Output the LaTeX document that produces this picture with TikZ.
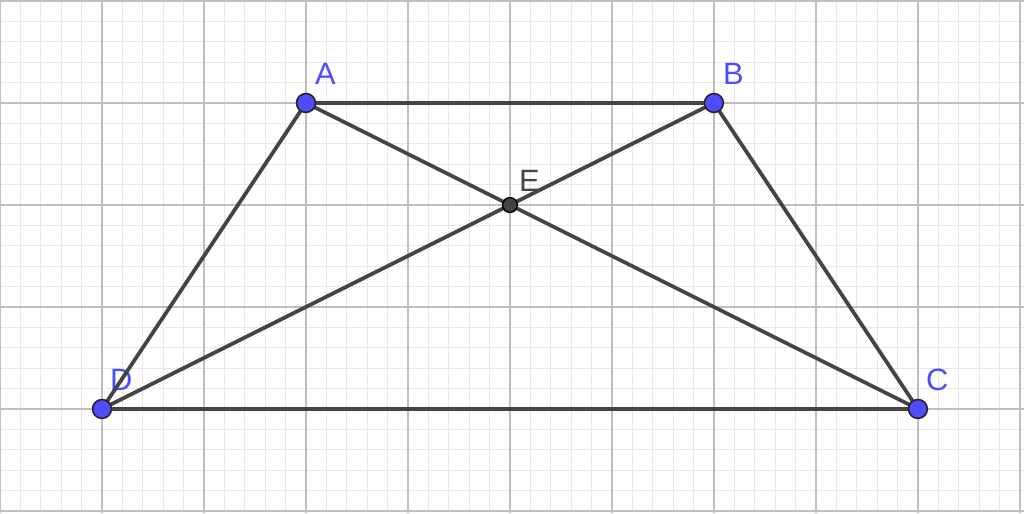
\documentclass[tikz,border=0pt]{standalone}
\usepackage{fontspec}
\setmainfont{Liberation Sans}
\usepackage{tikz}
\colorlet{minorGrid}{black!9}
\colorlet{majorGrid}{black!25}
\definecolor{pointBlue}{RGB}{77,77,255}
\definecolor{segGray}{RGB}{68,68,68}

\begin{document}
\begin{tikzpicture}[
  minor grid/.style={
    line width=0.3pt,
    draw=minorGrid
  },
  major grid/.style={
    line width=0.45pt,
    draw=majorGrid
  },
  segment/.style={
    line width=1.05pt,
    draw=segGray
  },
  free point/.style={
    circle,inner sep=0pt,minimum size=1.85mm,
    fill=pointBlue,draw=black!85,line width=0.45pt
  },
  inter point/.style={
    circle,inner sep=0pt,minimum size=1.45mm,
    fill=segGray,draw=black,line width=0.4pt
  },
  point label/.style={
    font=\fontsize{8.6}{10}\selectfont,
    text=pointBlue,inner sep=0pt
  }
]
\useasboundingbox (-1,-1.02) rectangle (9.04,4.01);
\fill[white] (-1,-1.02) rectangle (9.04,4.01);
\draw[minor grid,step=0.2] (-1,-1.02) grid (9.04,4.01);
\draw[major grid,step=1] (-1,-1.02) grid (9.04,4.01);

\coordinate (D) at (0,0);
\coordinate (C) at (8,0);
\coordinate (A) at (2,3);
\coordinate (B) at (6,3);
\coordinate (E) at (4,2);

\node[point label] (labA) at ([shift={(0.19,0.29)}]A) {A};
\node[point label] (labB) at ([shift={(0.19,0.29)}]B) {B};
\node[point label] (labC) at ([shift={(0.19,0.29)}]C) {C};
\node[point label] (labD) at ([shift={(0.19,0.29)}]D) {D};
\node[point label,text=segGray] (labE) at ([shift={(0.19,0.24)}]E) {E};

\draw[segment] (A) -- (B) -- (C) -- (D) -- cycle;
\draw[segment] (A) -- (C);
\draw[segment] (B) -- (D);

\node[inter point] at (E) {};
\foreach \p in {A,B,C,D}
  \node[free point] at (\p) {};
\end{tikzpicture}
\end{document}
